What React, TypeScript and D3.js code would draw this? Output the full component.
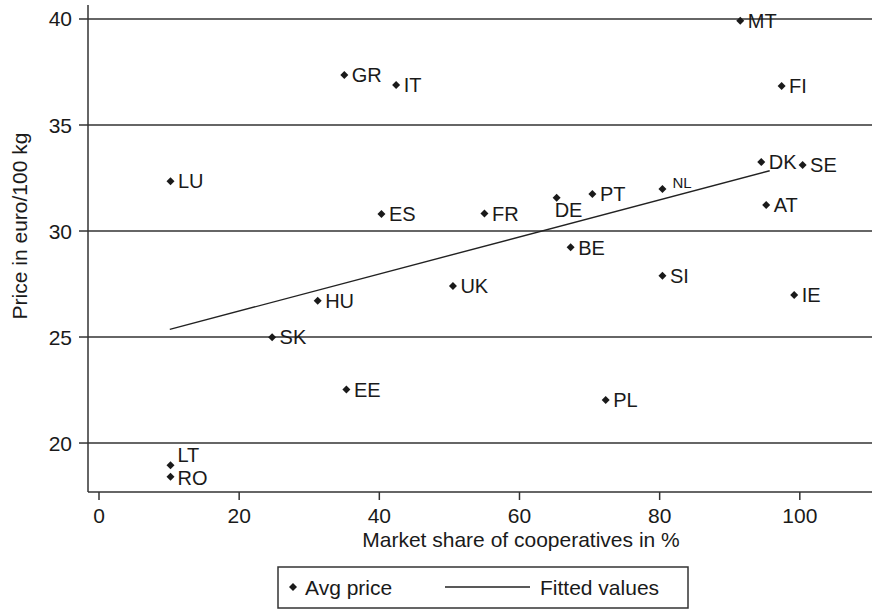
import * as d3 from "d3";
import { useRef, useEffect } from "react";

// market share of cooperatives (%) and avg price (euro/100 kg)
const countries = ["MT", "GR", "IT", "FI", "DK", "SE", "LU", "NL", "PT", "DE", "AT", "FR", "ES", "BE", "SI", "UK", "IE", "HU", "SK", "EE", "PL", "LT", "RO"];
const shares = [91.5, 35, 42.4, 97.4, 94.5, 100.4, 10.2, 80.4, 70.4, 65.3, 95.2, 55, 40.3, 67.3, 80.4, 50.5, 99.2, 31.2, 24.7, 35.3, 72.3, 10.2, 10.2];
const prices = [39.92, 37.36, 36.89, 36.84, 33.25, 33.11, 32.35, 31.98, 31.75, 31.57, 31.23, 30.83, 30.8, 29.23, 27.89, 27.41, 26.98, 26.71, 24.99, 22.53, 22.03, 18.95, 18.41];

// fitted values (linear fit), end points
const fittedX = [10.1, 95.7];
const fittedY = [25.36, 32.84];

const xTicks = [0, 20, 40, 60, 80, 100];
const yTicks = [20, 25, 30, 35, 40];

const FONT = "'Liberation Sans', Arial, Helvetica, sans-serif";
const INK = "#1a1a1a";

// label placement tweaks for a few markers
const labelOffsets = {
  DE: { dx: -2, dy: 19, size: 20 },
  LT: { dx: 7, dy: -3, size: 20 },
  RO: { dx: 7, dy: 8, size: 20 },
  NL: { dx: 10, dy: -1, size: 15 },
};

const App = () => {
  const container = useRef(null);

  useEffect(() => {
    const node = container.current;
    const width = 872;
    const height = 610;

    const plot = { l: 88, r: 872, t: 5, b: 492 };

    const svg = d3
      .select(node)
      .selectAll("svg")
      .data([0])
      .join("svg")
      .attr("width", width)
      .attr("height", height)
      .style("position", "absolute")
      .style("left", 0)
      .style("top", 0)
      .style("background", "#fff")
      .style("font-family", FONT);

    svg.selectAll("*").remove();

    const xScale = d3.scaleLinear().domain([-1.57, 110.3]).range([plot.l, plot.r]);
    const yScale = d3.scaleLinear().domain([17.69, 40.66]).range([plot.b, plot.t]);

    // --- gridlines
    svg
      .append("g")
      .selectAll("line")
      .data(yTicks)
      .join("line")
      .attr("x1", plot.l)
      .attr("x2", plot.r)
      .attr("y1", (d) => yScale(d))
      .attr("y2", (d) => yScale(d))
      .attr("stroke", "#333")
      .attr("stroke-width", 1.5);

    // --- y axis
    const yaxisg = svg.append("g");
    yaxisg
      .append("line")
      .attr("x1", plot.l)
      .attr("x2", plot.l)
      .attr("y1", plot.t)
      .attr("y2", plot.b)
      .attr("stroke", "#333")
      .attr("stroke-width", 1.5);
    yaxisg
      .selectAll(".ytick")
      .data(yTicks)
      .join("line")
      .attr("class", "ytick")
      .attr("x1", plot.l - 9)
      .attr("x2", plot.l)
      .attr("y1", (d) => yScale(d))
      .attr("y2", (d) => yScale(d))
      .attr("stroke", "#333")
      .attr("stroke-width", 1.5);
    yaxisg
      .selectAll(".ylab")
      .data(yTicks)
      .join("text")
      .attr("class", "ylab")
      .attr("x", 72)
      .attr("y", (d) => yScale(d) + 7.5)
      .attr("text-anchor", "end")
      .attr("font-size", 21)
      .attr("fill", INK)
      .text((d) => d);

    // --- x axis
    const xaxisg = svg.append("g");
    xaxisg
      .append("line")
      .attr("x1", plot.l)
      .attr("x2", plot.r)
      .attr("y1", plot.b)
      .attr("y2", plot.b)
      .attr("stroke", "#333")
      .attr("stroke-width", 1.5);
    xaxisg
      .selectAll(".xtick")
      .data(xTicks)
      .join("line")
      .attr("class", "xtick")
      .attr("x1", (d) => xScale(d))
      .attr("x2", (d) => xScale(d))
      .attr("y1", plot.b)
      .attr("y2", plot.b + 8)
      .attr("stroke", "#333")
      .attr("stroke-width", 1.5);
    xaxisg
      .selectAll(".xlab")
      .data(xTicks)
      .join("text")
      .attr("class", "xlab")
      .attr("x", (d) => xScale(d))
      .attr("y", 523)
      .attr("text-anchor", "middle")
      .attr("font-size", 21)
      .attr("fill", INK)
      .text((d) => d);

    // --- axis titles
    svg
      .append("text")
      .attr("x", 521)
      .attr("y", 547)
      .attr("text-anchor", "middle")
      .attr("font-size", 21)
      .attr("fill", INK)
      .text("Market share of cooperatives in %");

    svg
      .append("text")
      .attr("transform", `translate(27,226)rotate(-90)`)
      .attr("text-anchor", "middle")
      .attr("font-size", 21)
      .attr("fill", INK)
      .text("Price in euro/100 kg");

    // --- fitted line
    const lineGen = d3
      .line()
      .x((d) => xScale(d[0]))
      .y((d) => yScale(d[1]));
    svg
      .append("path")
      .datum(fittedX.map((x, i) => [x, fittedY[i]]))
      .attr("d", lineGen)
      .attr("fill", "none")
      .attr("stroke", "#222")
      .attr("stroke-width", 1.4);

    // --- points
    const diamond = d3.symbol().type(d3.symbolSquare).size(32);
    const points = countries.map((c, i) => ({ c, x: shares[i], y: prices[i] }));

    svg
      .append("g")
      .selectAll("path")
      .data(points)
      .join("path")
      .attr("d", diamond)
      .attr("transform", (d) => `translate(${xScale(d.x)},${yScale(d.y)})rotate(45)`)
      .attr("fill", INK);

    svg
      .append("g")
      .selectAll("text")
      .data(points)
      .join("text")
      .attr("x", (d) => xScale(d.x) + (labelOffsets[d.c] ? labelOffsets[d.c].dx : 7.5))
      .attr("y", (d) => yScale(d.y) + (labelOffsets[d.c] ? labelOffsets[d.c].dy : 7.2))
      .attr("font-size", (d) => (labelOffsets[d.c] ? labelOffsets[d.c].size : 20))
      .attr("fill", INK)
      .text((d) => d.c);

    // --- legend
    const legendg = svg.append("g");
    legendg
      .append("rect")
      .attr("x", 278)
      .attr("y", 567)
      .attr("width", 410)
      .attr("height", 41)
      .attr("fill", "#fff")
      .attr("stroke", "#333")
      .attr("stroke-width", 1.5);
    legendg
      .append("path")
      .attr("d", diamond)
      .attr("transform", "translate(293,587)rotate(45)")
      .attr("fill", INK);
    legendg
      .append("text")
      .attr("x", 305)
      .attr("y", 594.5)
      .attr("font-size", 21)
      .attr("fill", INK)
      .text("Avg price");
    legendg
      .append("line")
      .attr("x1", 445)
      .attr("x2", 530)
      .attr("y1", 587)
      .attr("y2", 587)
      .attr("stroke", "#222")
      .attr("stroke-width", 1.4);
    legendg
      .append("text")
      .attr("x", 540)
      .attr("y", 594.5)
      .attr("font-size", 21)
      .attr("fill", INK)
      .text("Fitted values");
  });

  return <div ref={container} style={{ width: 872, height: 610 }}></div>;
};

export default App;
